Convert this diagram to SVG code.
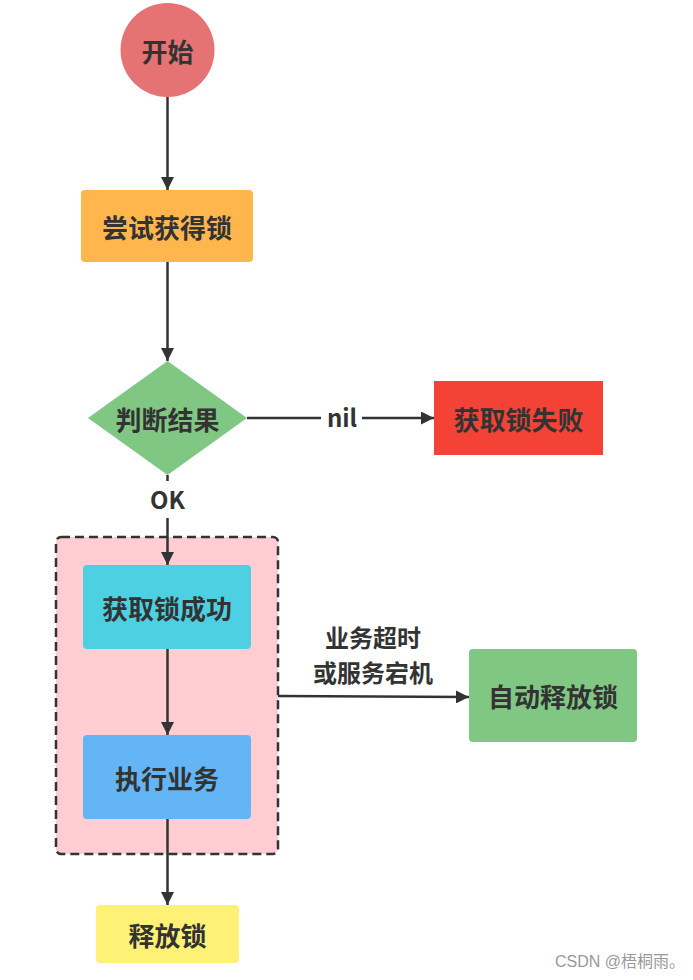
<svg xmlns="http://www.w3.org/2000/svg" width="693" height="980" viewBox="0 0 693 980">
<style>
.t{font-family:"Noto Sans CJK SC","Microsoft YaHei",sans-serif;font-weight:bold;font-size:26px;fill:#333;text-anchor:middle;dominant-baseline:central}
.l{font-size:24px}
.c{stroke:#333;stroke-width:2.5;fill:none}
.a{marker-end:url(#arr)}
</style>
<defs>
<marker id="arr" markerUnits="userSpaceOnUse" markerWidth="13" markerHeight="13" viewBox="0 0 13 13" refX="13" refY="6.5" orient="auto">
<path d="M0,0 L13,6.5 L0,13 z" fill="#333"/>
</marker>
</defs>
<rect width="693" height="980" fill="#fff"/>
<g id="container">
<rect x="56" y="537" width="222" height="317" rx="5" fill="#FFCDD2" stroke="#333" stroke-width="2.5" stroke-dasharray="9 5"/>
</g>
<g id="start">
<circle cx="167.5" cy="50" r="47" fill="#E57373"/>
<text class="t" x="167.5" y="50">开始</text>
</g>
<g id="try">
<rect x="81" y="190" width="172" height="72" rx="4" fill="#FFB74D"/>
<text class="t" x="167" y="226">尝试获得锁</text>
</g>
<g id="judge">
<polygon points="167.5,361 247,418 167.5,475 88,418" fill="#81C784"/>
<text class="t" x="167.5" y="418">判断结果</text>
</g>
<g id="fail">
<rect x="434" y="381" width="169" height="74" fill="#F44336"/>
<text class="t" x="518.5" y="418">获取锁失败</text>
</g>
<g id="success">
<rect x="83" y="565" width="168" height="84" rx="4" fill="#4DD0E1"/>
<text class="t" x="167" y="607">获取锁成功</text>
</g>
<g id="exec">
<rect x="83" y="735" width="168" height="84" rx="4" fill="#64B5F6"/>
<text class="t" x="167" y="777">执行业务</text>
</g>
<g id="release">
<rect x="96" y="905" width="143" height="58" rx="4" fill="#FFF176"/>
<text class="t" x="167.5" y="934">释放锁</text>
</g>
<g id="auto">
<rect x="469" y="649" width="168" height="93" rx="4" fill="#81C784"/>
<text class="t" x="553" y="695.5">自动释放锁</text>
</g>
<g id="connectors">
<line class="c a" x1="167.5" y1="97" x2="167.5" y2="190"/>
<line class="c a" x1="167.5" y1="262" x2="167.5" y2="361"/>
<line class="c" x1="247" y1="418" x2="321" y2="418"/>
<line class="c a" x1="362" y1="418" x2="434" y2="418"/>
<text class="t l" x="342" y="416">nil</text>
<line class="c" x1="167.5" y1="475" x2="167.5" y2="481"/>
<text class="t l" x="167.5" y="498">OK</text>
<line class="c a" x1="167.5" y1="518" x2="167.5" y2="565"/>
<line class="c a" x1="167.5" y1="649" x2="167.5" y2="735"/>
<line class="c a" x1="167.5" y1="819" x2="167.5" y2="905"/>
<line class="c a" x1="278" y1="696" x2="469" y2="697"/>
<text class="t l" x="373" y="636">业务超时</text>
<text class="t l" x="373" y="671">或服务宕机</text>
</g>
<text x="620" y="961" font-family="Liberation Sans,'Noto Sans CJK SC',sans-serif" font-size="16" fill="#999" text-anchor="middle" dominant-baseline="central">CSDN @梧桐雨。</text>
</svg>
